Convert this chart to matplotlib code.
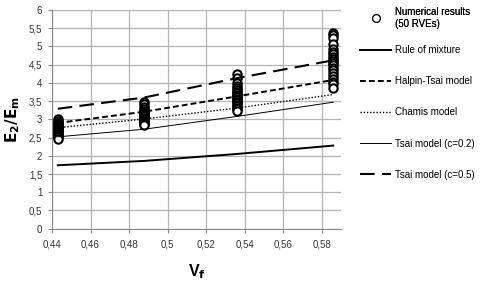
import matplotlib.pyplot as plt
import matplotlib as mpl
from matplotlib.lines import Line2D

# Datos
vf = [0.443, 0.488, 0.536, 0.586]

# Resultados numericos (RVEs) por cada fraccion de volumen
num_443 = [3.01, 2.96, 2.93, 2.90, 2.87, 2.84, 2.81, 2.79, 2.76, 2.74, 2.72,
           2.70, 2.68, 2.66, 2.64, 2.62, 2.60, 2.58, 2.56, 2.54, 2.51, 2.47]
num_488 = [3.47, 3.41, 3.33, 3.28, 3.24, 3.20, 3.17, 3.14, 3.11, 3.08, 3.05,
           3.02, 3.00, 2.97, 2.95, 2.92, 2.90, 2.87, 2.84]
num_536 = [4.24, 4.14, 4.00, 3.91, 3.86, 3.81, 3.76, 3.72, 3.68, 3.64, 3.60,
           3.56, 3.52, 3.48, 3.44, 3.40, 3.36, 3.32, 3.27, 3.22]
num_586 = [5.38, 5.31, 5.22, 5.07, 4.92, 4.85, 4.78, 4.72, 4.66, 4.60, 4.54,
           4.48, 4.42, 4.36, 4.28, 4.20, 4.12, 4.03, 3.96, 3.86]

# Modelos analiticos
rule_mixture = [1.74, 1.86, 2.05, 2.28]
halpin_tsai = [2.90, 3.21, 3.63, 4.08]
chamis = [2.77, 3.01, 3.31, 3.68]
tsai_02 = [2.52, 2.73, 3.08, 3.47]
tsai_05 = [3.29, 3.60, 4.13, 4.62]

xticks = [0.44, 0.46, 0.48, 0.50, 0.52, 0.54, 0.56, 0.58]
xtick_labels = ['0,44', '0,46', '0,48', '0,5', '0,52', '0,54', '0,56', '0,58']
yticks = [0, 0.5, 1, 1.5, 2, 2.5, 3, 3.5, 4, 4.5, 5, 5.5, 6]
ytick_labels = ['0', '0,5', '1', '1,5', '2', '2,5', '3', '3,5', '4', '4,5',
                '5', '5,5', '6']

mpl.rc('font', family='Liberation Sans')
fig = plt.figure(figsize=(4.8, 2.83), dpi=100)
ax = fig.add_axes([0.1083, 0.1919, 0.602, 0.7728])

# Puntos de los RVEs
for x, valores in zip(vf, [num_443, num_488, num_536, num_586]):
    ax.plot([x] * len(valores), valores, 'o', color='black', mfc='white',
            ms=6, mew=1.5, zorder=2)

# Curvas de los modelos
ax.plot(vf, rule_mixture, '-', color='black', lw=1.4, zorder=3)
ax.plot(vf, halpin_tsai, color='black', lw=1.4, dashes=(3, 1.6), zorder=3)
ax.plot(vf, chamis, color='black', lw=1.0, dashes=(1, 1.3), zorder=3)
ax.plot(vf, tsai_02, '-', color='black', lw=0.7, zorder=3)
ax.plot(vf, tsai_05, color='black', lw=1.5, dashes=(7, 3.5), zorder=3)

ax.set_xlim(0.44, 0.59)
ax.set_ylim(0, 6)
ax.set_xticks(xticks)
ax.set_xticklabels(xtick_labels)
ax.set_yticks(yticks)
ax.set_yticklabels(ytick_labels)
ax.tick_params(labelsize=7, colors='#888888', labelcolor='#333333',
               length=3, width=0.8)
ax.tick_params(axis='x', pad=5)
ax.tick_params(axis='y', pad=4)
ax.grid(color='#b4b4b4', lw=0.9, zorder=0)
ax.set_axisbelow(True)
for lado in ['top', 'right']:
    ax.spines[lado].set_visible(False)
for lado in ['left', 'bottom']:
    ax.spines[lado].set_color('#888888')
    ax.spines[lado].set_linewidth(0.8)

ax.set_xlabel('V$_\\mathbf{f}$', fontsize=11.5, fontweight='bold', labelpad=9)
ax.set_ylabel(r'$\mathbf{E_2/E_m}$', fontsize=11, labelpad=5)

# Leyenda
h_num = [Line2D([], [], ls='none', marker='o', color='black', mfc='white',
                ms=5.5, mew=0.8)]
leg1 = fig.legend(h_num, ['Numerical results\n(50 RVEs)'], loc='upper left',
                  bbox_to_anchor=(0.75, 0.975), frameon=False, fontsize=7,
                  handlelength=3.2, handletextpad=0.35, borderpad=0,
                  borderaxespad=0)
h_lin = [Line2D([], [], color='black', lw=1.4),
         Line2D([], [], color='black', lw=1.4, dashes=(3, 1.6)),
         Line2D([], [], color='black', lw=1.0, dashes=(1, 1.3)),
         Line2D([], [], color='black', lw=0.7),
         Line2D([], [], color='black', lw=1.5, dashes=(7, 3.5))]
etiquetas = ['Rule of mixture', 'Halpin-Tsai model', 'Chamis model',
             'Tsai model (c=0.2)', 'Tsai model (c=0.5)']
leg2 = fig.legend(h_lin, etiquetas, loc='upper left',
                  bbox_to_anchor=(0.75, 0.84), frameon=False, fontsize=7,
                  handlelength=3.2, handletextpad=0.35, borderpad=0,
                  borderaxespad=0, labelspacing=2.17)
fig.add_artist(leg1)

plt.savefig('out.png', dpi=100)
